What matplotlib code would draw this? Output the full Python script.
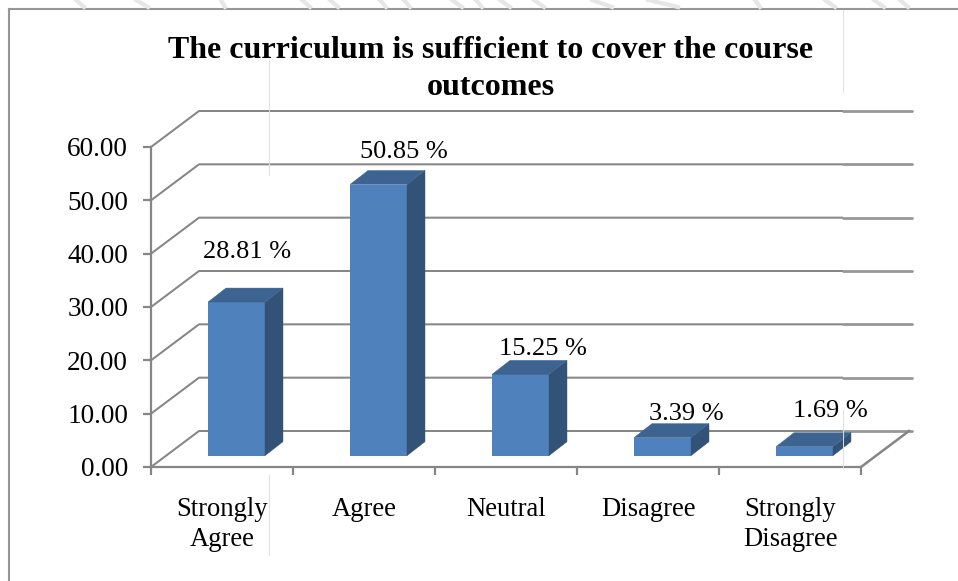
import matplotlib
matplotlib.use("Agg")
import matplotlib.pyplot as plt
from matplotlib.patches import Polygon
from matplotlib.lines import Line2D

categories = ["Strongly\nAgree", "Agree", "Neutral", "Disagree", "Strongly\nDisagree"]
values = [28.81, 50.85, 15.25, 3.39, 1.69]
value_labels = ["28.81 %", "50.85 %", "15.25 %", "3.39 %", "1.69 %"]
y_ticks = [0, 10, 20, 30, 40, 50, 60]

W, H = 958, 581
plt.rcParams['font.family'] = ['Liberation Serif', 'DejaVu Serif']
fig = plt.figure(figsize=(W / 100, H / 100), dpi=100)

L, R, T, B = 151, 861, 147, 467
ax = fig.add_axes([L / W, 1 - B / H, (R - L) / W, (B - T) / H])
ax.set_xlim(0, 5)
ax.set_ylim(0, 60)
ax.patch.set_alpha(0)
px = 5 / (R - L)
py = 60 / (B - T)

GRID = '#868686'
DX, DY = 48 * px, 36 * py
x_split = (843 - L) * px
x_end = (912 - L) * px
# walls
for v in y_ticks:
    ax.plot([0, DX, x_split], [v, v + DY, v + DY], color=GRID, lw=1.45, clip_on=False,
            solid_capstyle='butt', zorder=1)
    ax.plot([x_split, x_end], [v + DY, v + DY], color='#979797', lw=2.0, clip_on=False,
            solid_capstyle='round', zorder=1)
ax.plot([5, 5 + DX], [0, DY], color=GRID, lw=1.8, clip_on=False, zorder=1)

for s in ['top', 'right']:
    ax.spines[s].set_visible(False)
for s in ['left', 'bottom']:
    ax.spines[s].set_color(GRID)
    ax.spines[s].set_linewidth(1.6)
ax.set_yticks(y_ticks)
ax.set_yticklabels([f"{v:.2f}" for v in y_ticks], fontsize=19.6, color='black')
ax.set_xticks(range(6))
ax.set_xticklabels([])
ax.tick_params(axis='both', color=GRID, width=1.6, length=5.5)
ax.tick_params(axis='y', pad=11)

# bars
bar_w = 57 * px
base = 11.3 * py
off = 85.5 * px
bdx, bdy = 18 * px, 14 * py
label_off = [(11, 50), (25, 33), (22, 25), (24, 24), (26, 36)]
for i, (v, lab, lo) in enumerate(zip(values, value_labels, label_off)):
    xc = i + off
    ax.bar(xc, v, width=bar_w, bottom=base, color='#4f81bd', linewidth=0, zorder=3, clip_on=False)
    x0, x1 = xc - bar_w / 2, xc + bar_w / 2
    top = base + v
    ax.add_patch(Polygon([(x1, base), (x1 + bdx, base + bdy), (x1 + bdx, top + bdy), (x1, top)],
                         closed=True, fc='#325278', ec='#325278', lw=0.3, zorder=3, clip_on=False))
    ax.add_patch(Polygon([(x0, top), (x1, top), (x1 + bdx, top + bdy), (x0 + bdx, top + bdy)],
                         closed=True, fc='#3d6490', ec='#3d6490', lw=0.3, zorder=3, clip_on=False))
    ax.annotate(lab, (xc, top), xytext=(lo[0] * 0.72, lo[1] * 0.72), textcoords='offset points',
                ha='center', va='center', fontsize=19, color='black', zorder=4, annotation_clip=False)

# category labels
for i, c in enumerate(categories):
    fig.text((L + (i + 0.5) * 142) / W, 1 - 497 / H, c, ha='center', va='top', fontsize=19.2,
             color='black', linespacing=1.27)

fig.text(491 / W, 1 - 69 / H, "The curriculum is sufficient to cover the course\noutcomes",
         ha='center', va='center', fontsize=23, fontweight='bold', color='black', linespacing=1.4)

# chart frame
for xs, ys in [([9, 9], [9, 581]), ([9, 958], [9, 9])]:
    fig.add_artist(Line2D([x / W for x in xs], [1 - y / H for y in ys], color='#969696', lw=1.5))

# faint vertical page seams
for x, y0, y1 in [(269, 60, 175), (269, 475, 555), (843, 10, 92), (843, 410, 468)]:
    fig.add_artist(Line2D([x / W, x / W], [1 - y0 / H, 1 - y1 / H], color='#dedede', lw=0.7))

# background watermark fragments above the frame
for x0, x1 in [(76, 84), (136, 148), (221, 225), (302, 310), (330, 338), (380, 386), (404, 410),
               (452, 462), (476, 482), (500, 510), (534, 544), (592, 612), (648, 678), (755, 760),
               (825, 835), (874, 884), (900, 908)]:
    fig.add_artist(Line2D([x0 / W, x1 / W], [1 - 0 / H, 1 - 7 / H], color='#e6e6e6', lw=3))

fig.savefig("out.png", dpi=100, facecolor='white')
